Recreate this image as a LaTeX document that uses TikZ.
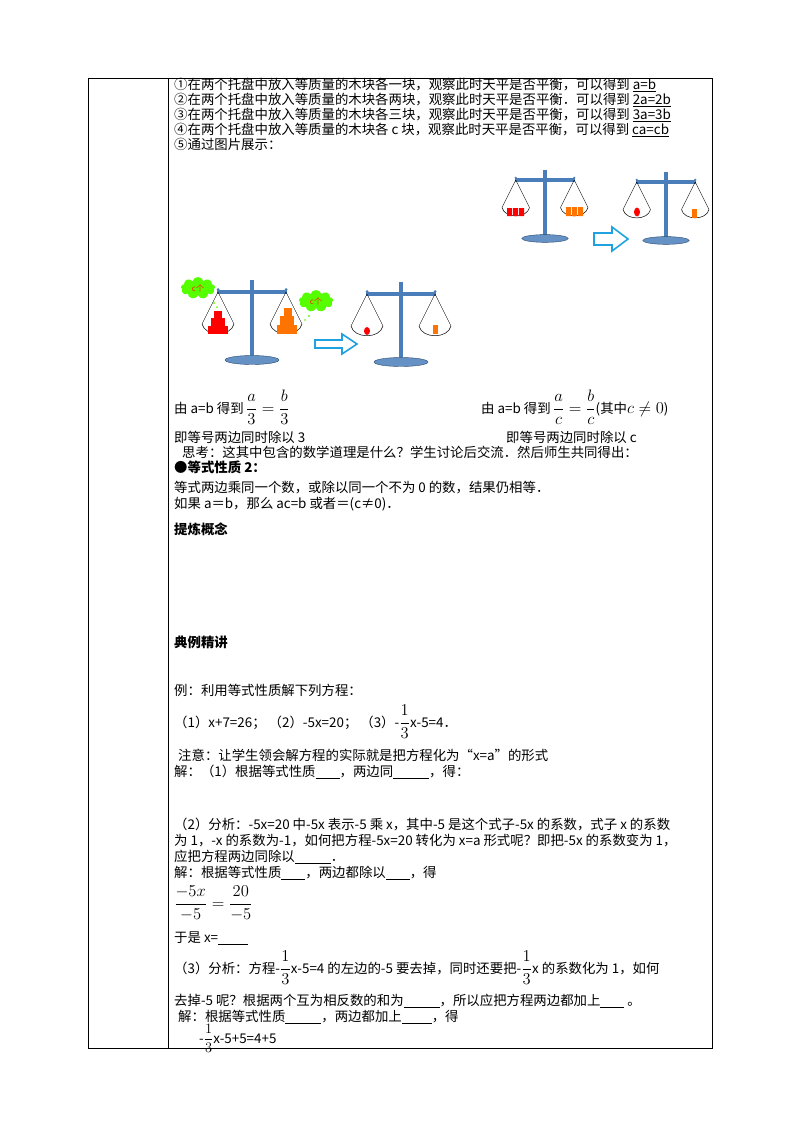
\documentclass[tikz,border=0pt]{standalone}
\usepackage{amsmath}
\usepackage{fontspec}
\setmainfont{Noto Sans CJK SC}
\usetikzlibrary{shapes.symbols}
\definecolor{sb}{HTML}{4A7EBB}
\definecolor{ar}{HTML}{1FA3E0}
\newcommand\mybigmath[1]{\scalebox{1.15}{$#1$}}
\tikzset{
 t/.style={anchor=base west,inner sep=0pt,font=\fontsize{13.4}{15}\selectfont},
 b/.style={t,font=\fontsize{13.4}{15}\selectfont\bfseries},
 bal/.pic={
  \fill[sb] (-1.8,-12) rectangle (1.8,68);
  \fill[sb] (-35,-2) rectangle (35,2);
  \fill[sb] (-34,-2.5) circle (1.5) (34,-2.5) circle (1.5);
  \filldraw[fill=sb!85,draw=sb!60!black,line width=0.4pt] (0,68) ellipse (27 and 4.5);
  \foreach \s in {-1,1}{
   \draw[line width=0.4pt] (\s*34,0) -- (\s*34-16,32) (\s*34,0) -- (\s*34+16,32);
   \draw[line width=0.5pt] (\s*34-16,32) .. controls (\s*34-13,45) and (\s*34+13,45) .. (\s*34+16,32);
  }
 },
 hollow/.style={draw=ar,line width=1.6pt,fill=white},
 cl/.style={cloud,cloud puffs=9,aspect=1.5,fill=green!55!lime,inner sep=1pt,minimum width=34,minimum height=22,font=\fontsize{8}{8}\selectfont\color{red!70!orange}}
}
\begin{document}
\begin{tikzpicture}[x=1pt,y=-1pt]
\useasboundingbox (0,0) rectangle (800,1132);
\fill[white] (0,0) rectangle (800,1132);
\draw[line width=0.6pt] (88,78) rectangle (712,1048);
\draw[line width=0.6pt] (168,78) -- (168,1048);

\node[t] (l1) at (174,89) {①在两个托盘中放入等质量的木块各一块，观察此时天平是否平衡，可以得到 \underline{a=b}};
\node[t] (l2) at (174,104) {②在两个托盘中放入等质量的木块各两块，观察此时天平是否平衡．可以得到 \underline{2a=2b}};
\node[t] (l3) at (174,119) {③在两个托盘中放入等质量的木块各三块，观察此时天平是否平衡，可以得到 \underline{3a=3b}};
\node[t] (l4) at (174,134) {④在两个托盘中放入等质量的木块各 c 块，观察此时天平是否平衡，可以得到 \underline{ca=cb}};
\node[t] (l5) at (174,149) {⑤通过图片展示：};

% top scales
\pic[scale=0.86] at (545,180) {bal};
\fill[red] (507,208) rectangle (512,216) (513,208) rectangle (518,216) (519,208) rectangle (524,216);
\fill[orange!90!red] (566,207) rectangle (571,216) (572,207) rectangle (577,216) (578,207) rectangle (583,216);
\pic[scale=0.86] at (666,182) {bal};
\fill[red] (637,212) ellipse (3 and 4.5);
\fill[orange!90!red] (692,209) rectangle (697,218);
\draw[hollow] (594,233) -- (612,233) -- (612,227) -- (628,239) -- (612,251) -- (612,245) -- (594,245) -- cycle;

% bottom scales
\pic at (252,292) {bal};
\fill[red] (208,326) rectangle (228,334);
\fill[red] (211,318) rectangle (225,326);
\fill[red] (214,311) rectangle (222,318);
\fill[orange!90!red] (277,325) rectangle (297,334);
\fill[orange!90!red] (280,316) rectangle (294,325);
\fill[orange!90!red] (284,308) rectangle (292,316);
\node[cl] (c1) at (198,288) {c个};
\node[cl] (c2) at (316,301) {c个};
\fill[green!45!lime] (214,303) circle (1.2) (217,307) circle (1);
\fill[green!45!lime] (309,316) circle (1.2) (305,320) circle (1);
\pic at (401,294) {bal};
\fill[red] (367,331) ellipse (3 and 4);
\fill[orange!90!red] (433,325) rectangle (438,334);
\draw[hollow] (315,340) -- (342,340) -- (342,334) -- (357,344) -- (342,354) -- (342,348) -- (315,348) -- cycle;

\node[t] (f1) at (174,413) {由 a=b 得到\,\mybigmath{\dfrac{a}{3}=\dfrac{b}{3}}};
\node[t] (f2) at (481,413) {由 a=b 得到\,\mybigmath{\dfrac{a}{c}=\dfrac{b}{c}}(其中\mybigmath{c\neq0})};
\node[t] (g1) at (174,442) {即等号两边同时除以 3};
\node[t] (g2) at (506,442) {即等号两边同时除以 c};
\node[t] (h) at (182,457) {思考：这其中包含的数学道理是什么？学生讨论后交流．然后师生共同得出：};
\node[b] (h2) at (174,472) {●等式性质 2：};
\node[t] (h3) at (174,492) {等式两边乘同一个数，或除以同一个不为 0 的数，结果仍相等．};
\node[t] (h4) at (174,508) {如果 a＝b，那么 ac=b 或者＝(c≠0)．};
\node[b] (h5) at (174,534) {提炼概念};
\node[b] (h6) at (174,647) {典例精讲};

\node[t] (e1) at (174,695) {例：利用等式性质解下列方程：};
\node[t] (e2) at (174,727) {（1）x+7=26；\ （2）-5x=20；\ （3）-\mybigmath{\dfrac{1}{3}}x-5=4．};
\node[t] (e3) at (178,760) {注意：让学生领会解方程的实际就是把方程化为“x=a”的形式};
\node[t] (e4) at (174,776) {解：（1）根据等式性质\underline{\hspace{24pt}}，两边同\underline{\hspace{36pt}}，得：};
\node[t] (e5) at (174,829) {（2）分析：-5x=20 中-5x 表示-5 乘 x，其中-5 是这个式子-5x 的系数，式子 x 的系数};
\node[t] (e6) at (174,845) {为 1，-x 的系数为-1，如何把方程-5x=20 转化为 x=a 形式呢？即把-5x 的系数变为 1，};
\node[t] (e7) at (174,861) {应把方程两边同除以\underline{\hspace{36pt}}．};
\node[t] (e8) at (174,877) {解：根据等式性质\underline{\hspace{24pt}}，两边都除以\underline{\hspace{24pt}}，得};
\node[t] (e9) at (174,908) {\mybigmath{\dfrac{-5x}{-5}=\dfrac{20}{-5}}};
\node[t] (e10) at (174,942) {于是 x=\underline{\hspace{30pt}}};
\node[t] (e11) at (174,973) {（3）分析：方程-\mybigmath{\dfrac{1}{3}}x-5=4 的左边的-5 要去掉，同时还要把-\mybigmath{\dfrac{1}{3}}x 的系数化为 1，如何};
\node[t] (e12) at (174,1005) {去掉-5 呢？根据两个互为相反数的和为\underline{\hspace{36pt}}，所以应把方程两边都加上\underline{\hspace{24pt}}\ 。};
\node[t] (e13) at (178,1021) {解：根据等式性质\underline{\hspace{36pt}}，两边都加上\underline{\hspace{30pt}}，得};
\node[t] (e14) at (199,1043) {-$\dfrac{1}{3}$x-5+5=4+5};
\end{tikzpicture}
\end{document}
